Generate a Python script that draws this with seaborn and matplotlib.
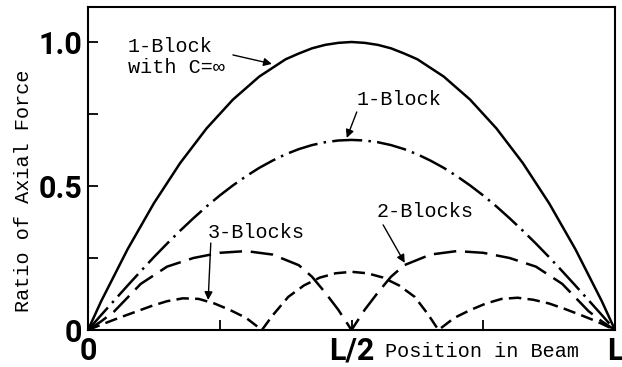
import numpy as np
import pandas as pd
import matplotlib
matplotlib.use("Agg")
import matplotlib.pyplot as plt
import seaborn as sns

# positions along the beam (fraction of L) and axial force ratios
x_inf = [0, 0.025, 0.05, 0.075, 0.10, 0.125, 0.15, 0.175, 0.20, 0.225, 0.25, 0.275,
         0.30, 0.325, 0.35, 0.375, 0.40, 0.425, 0.45, 0.475, 0.50,
         0.525, 0.55, 0.575, 0.60, 0.625, 0.65, 0.675, 0.70, 0.725, 0.75, 0.775,
         0.80, 0.825, 0.85, 0.875, 0.90, 0.925, 0.95, 0.975, 1.0]
y_inf = [0, 0.10, 0.19, 0.28, 0.36, 0.44, 0.51, 0.58, 0.64, 0.70, 0.75, 0.80,
         0.84, 0.88, 0.91, 0.94, 0.96, 0.978, 0.99, 0.997, 1.0,
         0.997, 0.99, 0.978, 0.96, 0.94, 0.91, 0.88, 0.84, 0.80, 0.75, 0.70,
         0.64, 0.58, 0.51, 0.44, 0.36, 0.28, 0.19, 0.10, 0]

x_one = x_inf
y_one = [0, 0.052, 0.103, 0.154, 0.204, 0.253, 0.30, 0.345, 0.388, 0.429, 0.467, 0.502,
         0.534, 0.563, 0.588, 0.610, 0.628, 0.642, 0.652, 0.658, 0.66,
         0.658, 0.652, 0.642, 0.628, 0.610, 0.588, 0.563, 0.534, 0.502, 0.467, 0.429,
         0.388, 0.345, 0.30, 0.253, 0.204, 0.154, 0.103, 0.052, 0]

x_two = [0, 0.025, 0.05, 0.10, 0.15, 0.20, 0.25, 0.30, 0.35, 0.40, 0.425, 0.45, 0.475, 0.50,
         0.525, 0.55, 0.575, 0.60, 0.65, 0.70, 0.75, 0.80, 0.85, 0.90, 0.95, 0.975, 1.0]
y_two = [0, 0.03, 0.065, 0.16, 0.22, 0.25, 0.268, 0.274, 0.262, 0.225, 0.185, 0.13, 0.07, 0,
         0.07, 0.13, 0.185, 0.225, 0.262, 0.274, 0.268, 0.25, 0.22, 0.16, 0.065, 0.03, 0]

x_three = [0, 0.03, 0.06, 0.09, 0.12, 0.15, 0.18, 0.21, 0.24, 0.27, 0.30, 0.33,
           0.35, 0.38, 0.41, 0.44, 0.47, 0.50, 0.53, 0.56, 0.59, 0.62, 0.645, 0.665,
           0.695, 0.725, 0.755, 0.785, 0.815, 0.845, 0.875, 0.905, 0.935, 0.965, 1.0]
y_three = [0, 0.022, 0.043, 0.063, 0.083, 0.10, 0.11, 0.108, 0.092, 0.069, 0.042, 0,
           0.05, 0.115, 0.155, 0.182, 0.197, 0.202, 0.197, 0.182, 0.155, 0.115, 0.055, 0,
           0.042, 0.069, 0.092, 0.108, 0.112, 0.105, 0.092, 0.073, 0.052, 0.03, 0]

sns.set_theme(style="ticks")
mono = ["Liberation Mono", "DejaVu Sans Mono"]
plt.rcParams["font.family"] = mono

fig = plt.figure(figsize=(6.22, 3.67), dpi=100)
ax = fig.add_axes([88 / 622, 1 - 330 / 367, 527 / 622, 323 / 367])

sns.lineplot(x=x_inf, y=y_inf, color="black", lw=1.8, ax=ax)
sns.lineplot(x=x_one, y=y_one, color="black", lw=1.8, ax=ax).lines[-1].set_dashes([12, 2.5, 1, 2.5])
sns.lineplot(x=x_two, y=y_two, color="black", lw=1.8, ax=ax).lines[-1].set_dashes([9, 3.5])
sns.lineplot(x=x_three, y=y_three, color="black", lw=1.8, ax=ax).lines[-1].set_dashes([5, 2.5])

ax.set_xlim(0, 1)
ax.set_ylim(0, 1.1215)

ax.set_yticks([0, 0.25, 0.5, 0.75, 1.0])
ax.set_yticklabels(["0", "", "0.5", "", "1.0"])
ax.set_xticks([0, 0.25, 0.5, 0.75, 1.0])
ax.set_xticklabels(["0", "", "L/2", "", "L"])
ax.tick_params(axis="both", direction="in", length=7, width=1.3, color="black")
ax.tick_params(axis="y", pad=4)
ax.tick_params(axis="x", pad=4)
for lab in ax.get_xticklabels() + ax.get_yticklabels():
    lab.set_family(["Roboto", "DejaVu Sans"])
    lab.set_fontsize(22)
    lab.set_fontweight("bold")
    lab.set_color("black")

for s in ax.spines.values():
    s.set_visible(True)
    s.set_color("black")
    s.set_linewidth(1.5)

ax.set_ylabel("Ratio of Axial Force", fontsize=14.5, color="black")
ax.yaxis.set_label_coords(-0.105, 0.43)
ax.text(0.748, -0.068, "Position in Beam", transform=ax.transAxes,
        ha="center", va="center", fontsize=14.5, color="black")

# curve labels with pointer arrows
arrow = dict(arrowstyle="-|>", color="black", lw=1.0, mutation_scale=12, shrinkA=0, shrinkB=0)
labels = [
    ("1-Block\nwith C=\u221e", (0.076, 0.948), (0.275, 0.955), (0.349, 0.924)),
    ("1-Block", (0.510, 0.799), (0.510, 0.757), (0.491, 0.667)),
    ("3-Blocks", (0.228, 0.340), (0.233, 0.302), (0.228, 0.104)),
    ("2-Blocks", (0.548, 0.410), (0.560, 0.365), (0.601, 0.233)),
]
for txt, pos, tail, tip in labels:
    ax.text(pos[0], pos[1], txt, ha="left", va="center", fontsize=14.5,
            color="black", linespacing=1.1)
    ax.annotate("", xy=tip, xytext=tail, arrowprops=arrow)

fig.savefig("out.png", dpi=100, facecolor="white")
